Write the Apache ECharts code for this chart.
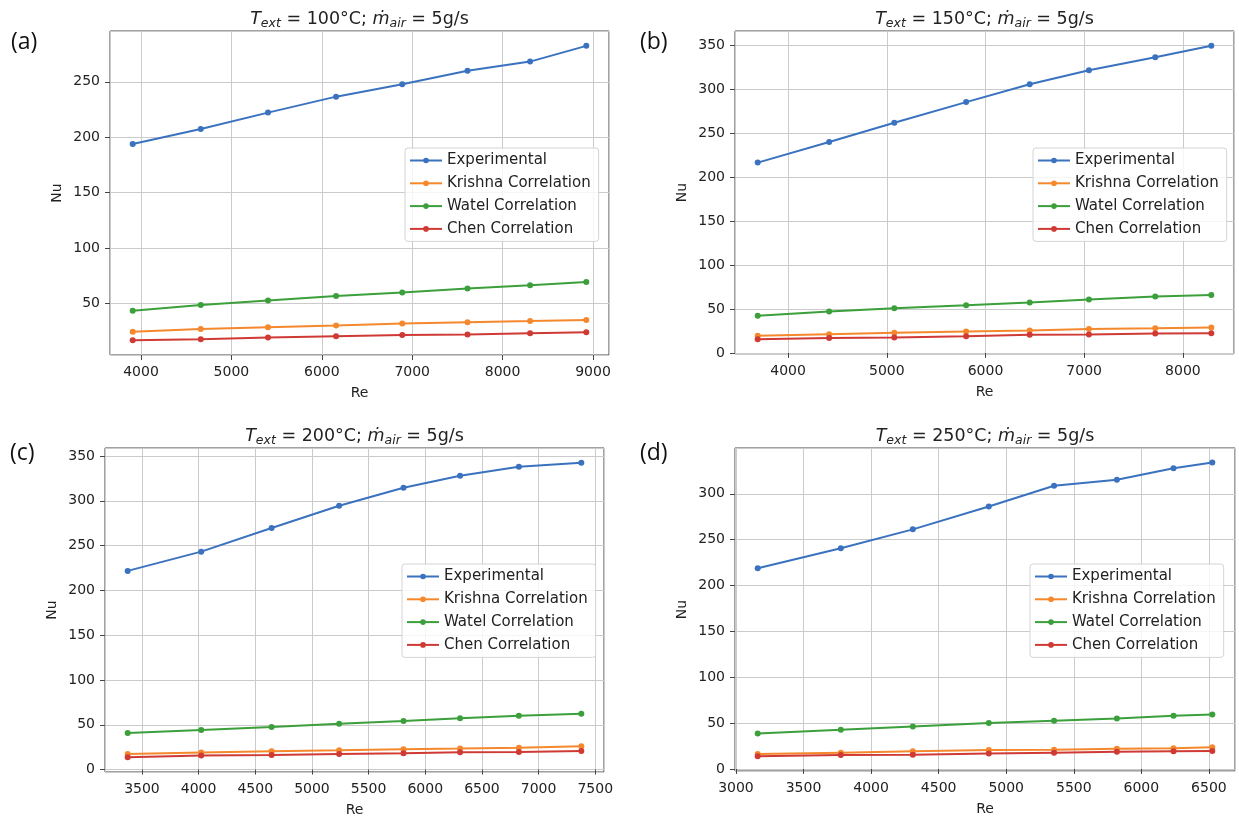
<!DOCTYPE html>
<html>
<head>
<meta charset="utf-8">
<script src="https://cdn.jsdelivr.net/npm/echarts@6/dist/echarts.min.js"></script>
<style>
html, body { margin: 0; padding: 0; background: #fff; }
#chart { width: 1239px; height: 820px; }
</style>
</head>
<body>
<div id="chart"></div>
<script>
// series names (same in every panel)
const names = ['Experimental', 'Krishna Correlation', 'Watel Correlation', 'Chen Correlation'];

// (a) T_ext = 100°C
const reA = [3908, 4661, 5405, 6158, 6890, 7612, 8304, 8926];
const expA = [193.8, 207.4, 222.2, 236.6, 247.8, 260.0, 268.2, 282.4];
const krishnaA = [24.6, 27.0, 28.6, 30.1, 31.9, 33.2, 34.2, 35.2];
const watelA = [43.6, 48.8, 52.8, 56.9, 60.0, 63.6, 66.4, 69.4];
const chenA = [16.9, 17.9, 19.3, 20.5, 21.6, 22.1, 23.2, 24.1];

// (b) T_ext = 150°C
const reB = [3692, 4416, 5076, 5804, 6448, 7048, 7720, 8288];
const expB = [216.8, 240.3, 262.2, 285.7, 306.1, 322.0, 336.7, 350.0];
const krishnaB = [19.7, 21.4, 22.9, 24.4, 25.7, 27.2, 28.0, 29.0];
const watelB = [42.3, 47.2, 50.8, 54.2, 57.5, 60.8, 64.2, 66.0];
const chenB = [15.6, 17.1, 17.7, 18.9, 20.6, 21.0, 22.1, 22.5];

// (c) T_ext = 200°C
const reC = [3374, 4023, 4644, 5240, 5808, 6307, 6826, 7377];
const expC = [221.8, 243.3, 269.7, 294.6, 314.6, 328.0, 338.0, 342.5];
const krishnaC = [17.5, 19.0, 20.4, 21.5, 22.7, 23.4, 24.5, 26.0];
const watelC = [40.9, 44.2, 47.5, 51.3, 54.2, 57.2, 60.2, 62.4];
const chenC = [13.7, 15.6, 16.3, 17.5, 18.2, 19.3, 19.7, 20.8];

// (d) T_ext = 250°C
const reD = [3161, 3776, 4309, 4871, 5354, 5819, 6238, 6525];
const expD = [218.8, 240.6, 261.2, 286.2, 308.7, 315.2, 327.9, 334.0];
const krishnaD = [16.3, 17.8, 19.2, 20.7, 21.0, 22.1, 22.5, 23.6];
const watelD = [38.8, 42.8, 46.4, 50.0, 52.5, 55.1, 58.0, 59.4];
const chenD = [13.8, 15.2, 15.6, 17.0, 17.8, 18.8, 19.2, 19.6];

const colors = ['#3a72bf', '#f5882c', '#3b9f3b', '#cf3a35'];
const font = 'DejaVu Sans';

// one entry per subplot
const panels = [
    { tag: '(a)', temp: '100', re: reA, ys: [expA, krishnaA, watelA, chenA],
      grid: { left: 110, top: 31, width: 499, height: 324 }, xr: [3657, 9177, 1000], yr: [3.6, 295.8],
      tagPos: [11, 31], legendPos: [405, 148] },
    { tag: '(b)', temp: '150', re: reB, ys: [expB, krishnaB, watelB, chenB],
      grid: { left: 735, top: 31, width: 499, height: 323 }, xr: [3462, 8518, 1000], yr: [-1.2, 366.7],
      tagPos: [640, 31], legendPos: [1033, 148] },
    { tag: '(c)', temp: '200', re: reC, ys: [expC, krishnaC, watelC, chenC],
      grid: { left: 105, top: 448, width: 499, height: 324 }, xr: [3174, 7577, 500], yr: [-2.7, 359.0],
      tagPos: [10, 442], legendPos: [402, 564] },
    { tag: '(d)', temp: '250', re: reD, ys: [expD, krishnaD, watelD, chenD],
      grid: { left: 735, top: 448, width: 500, height: 323 }, xr: [2993, 6693, 500], yr: [-2.2, 349.9],
      tagPos: [640, 442], legendPos: [1030, 564] },
];

const grid = [], xAxis = [], yAxis = [], series = [], title = [], legend = [], graphic = [];

panels.forEach((p, i) => {
    grid.push(Object.assign({ show: true, borderColor: '#444', borderWidth: 1, backgroundColor: '#fff' }, p.grid));

    const common = {
        type: 'value',
        gridIndex: i,
        axisLine: { show: false },
        axisTick: { show: true, inside: false, length: 5, lineStyle: { color: '#444', width: 1 } },
        axisLabel: { color: '#222', fontFamily: font, fontSize: 14, margin: 10,
                     showMinLabel: false, showMaxLabel: false, formatter: v => String(v) },
        splitLine: { show: true, lineStyle: { color: '#cbcbcb', width: 1 } },
        nameLocation: 'middle',
        nameTextStyle: { color: '#222', fontFamily: font, fontSize: 14 },
    };
    xAxis.push(Object.assign({}, common, {
        min: p.xr[0], max: p.xr[1], minInterval: p.xr[2], maxInterval: p.xr[2],
        name: 'Re', nameGap: 31,
    }));
    yAxis.push(Object.assign({}, common, {
        min: p.yr[0], max: p.yr[1], minInterval: 50, maxInterval: 50,
        name: 'Nu', nameGap: 46,
    }));

    p.ys.forEach((vals, k) => {
        series.push({
            name: names[k],
            type: 'line',
            xAxisIndex: i,
            yAxisIndex: i,
            data: p.re.map((x, j) => [x, vals[j]]),
            symbol: 'circle',
            symbolSize: 6,
            showSymbol: true,
            color: colors[k],
            lineStyle: { width: 2 },
            animation: false,
        });
    });

    title.push({
        text: '{t|T}{s|ext}{n| = ' + p.temp + '°C; }{t|ṁ}{s|air}{n| = 5g/s}',
        left: p.grid.left + p.grid.width / 2,
        top: i < 2 ? 8 : 425,
        textAlign: 'center',
        padding: 0,
        textStyle: {
            fontWeight: 'normal',
            rich: {
                t: { fontFamily: font, fontSize: 17.5, fontStyle: 'italic', fontWeight: 'normal', color: '#222', lineHeight: 22 },
                s: { fontFamily: font, fontSize: 12.5, fontStyle: 'italic', fontWeight: 'normal', color: '#222', lineHeight: 10, verticalAlign: 'bottom' },
                n: { fontFamily: font, fontSize: 17.5, fontWeight: 'normal', color: '#222', lineHeight: 22 },
            },
        },
    });

    legend.push({
        data: names,
        orient: 'vertical',
        left: p.legendPos[0],
        top: p.legendPos[1],
        itemWidth: 32,
        itemHeight: 7,
        itemGap: 7.8,
        padding: [5, 8, 5, 4],
        backgroundColor: 'rgba(255,255,255,0.8)',
        borderColor: '#d4d4d4',
        borderWidth: 1,
        borderRadius: 3,
        textStyle: { fontFamily: font, fontSize: 15, color: '#222', lineHeight: 14.5 },
    });

    graphic.push({
        type: 'text',
        left: p.tagPos[0],
        top: p.tagPos[1],
        style: { text: p.tag, font: '23px "Open Sans"', fill: '#111' },
    });
});

const chart = echarts.init(document.getElementById('chart'));
chart.setOption({
    backgroundColor: '#fff',
    animation: false,
    title: title,
    legend: legend,
    grid: grid,
    xAxis: xAxis,
    yAxis: yAxis,
    series: series,
    graphic: graphic,
});
</script>
</body>
</html>
